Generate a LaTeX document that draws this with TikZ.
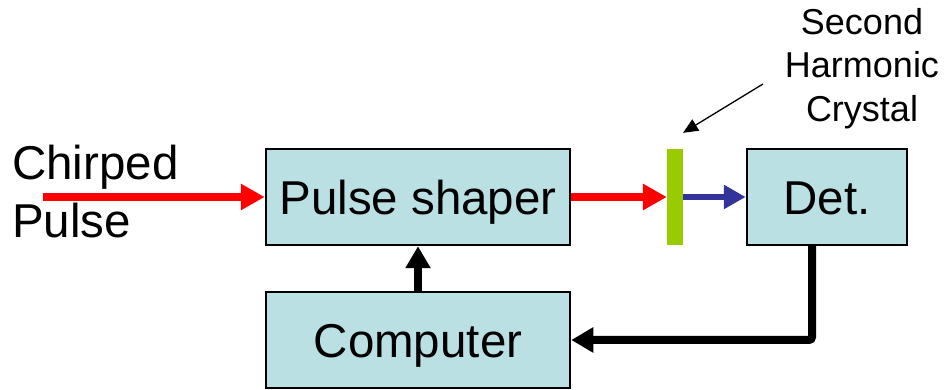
\documentclass[tikz,border=0pt]{standalone}
\usepackage{fontspec}
\setmainfont{Liberation Sans}
\usetikzlibrary{arrows.meta}
\definecolor{boxfill}{HTML}{BBE0E3}
\definecolor{crystalgreen}{HTML}{99CC00}
\definecolor{shgblue}{HTML}{333399}
\tikzset{
  blockbox/.style={draw=black, line width=2.5pt, fill=boxfill, inner sep=0pt,
    minimum height=96pt, text height=36pt, text depth=0pt,
    font=\fontsize{47.5}{54}\selectfont},
  beamred/.style={draw=red, line width=7.5pt,
    -{Triangle[length=24pt,width=25pt,fill=red]}},
  beamblue/.style={draw=shgblue, line width=6pt,
    -{Triangle[length=22pt,width=23pt,fill=shgblue]}},
  signal/.style={draw=black, line width=8pt,
    -{Triangle[length=22pt,width=24pt]}},
  pointer/.style={draw=black, line width=1.3pt,
    -{Triangle[length=15pt,width=13pt]}},
  biglabel/.style={anchor=base west, inner sep=0pt,
    font=\fontsize{47.5}{54}\selectfont},
  smalllabel/.style={anchor=base, inner sep=0pt,
    font=\fontsize{36}{43}\selectfont}
}
\begin{document}
\begin{tikzpicture}[x=1pt,y=-1pt]
  \useasboundingbox (0,0) rectangle (946,390);

  % blocks
  \node[blockbox, minimum width=304pt] (ps) at (418,197) {Pulse shaper};
  \node[blockbox, minimum width=304pt] (comp) at (418,340) {Computer};
  \node[blockbox, minimum width=160pt] (det) at (827,197) {Det.};

  % nonlinear crystal
  \node[fill=crystalgreen, inner sep=0pt, minimum width=16pt,
        minimum height=96pt] (crystal) at (675,197) {};

  % input label
  \node[biglabel] (chirp) at (12,180) {Chirped};
  \node[biglabel] (pulse) at (12,238) {Pulse};

  % crystal label
  \node[smalllabel] (lsecond) at (862,35) {Second};
  \node[smalllabel] (lharm) at (862,78) {Harmonic};
  \node[smalllabel] (lcryst) at (862,122) {Crystal};

  % beams
  \coordinate (src) at (43,197);
  \draw[beamred] (src) -- (ps.west);
  \draw[beamred] (ps.east) -- (crystal.west);
  \draw[beamblue] (crystal.east) -- (det.west);

  % feedback loop
  \draw[signal] (comp.north) -- (ps.south);
  \draw[signal, rounded corners=3pt] ([xshift=-15pt]det.south) |- (comp.east);

  % pointer to crystal
  \coordinate (ptrstart) at (763,84);
  \draw[pointer] (ptrstart) -- ([shift={(8,-16)}]crystal.north);
\end{tikzpicture}
\end{document}
